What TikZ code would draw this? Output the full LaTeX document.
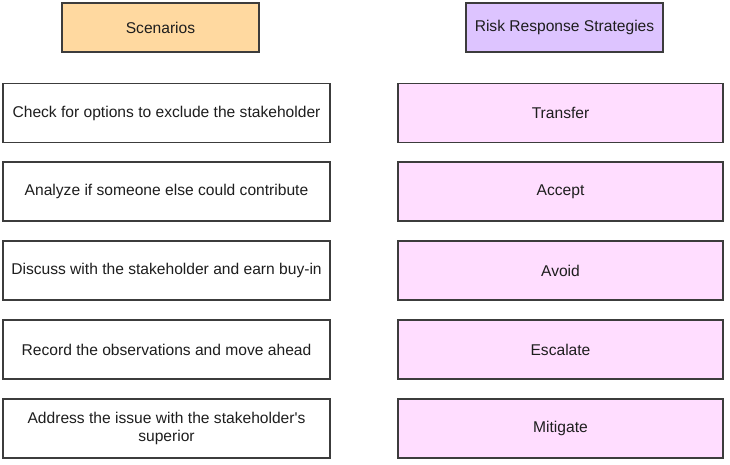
\documentclass[tikz,border=0pt]{standalone}
\usepackage{fontspec}
\setmainfont{Liberation Sans}
\definecolor{hdrA}{RGB}{255,217,160}
\definecolor{hdrB}{RGB}{221,196,255}
\definecolor{pinkbox}{RGB}{255,221,255}
\definecolor{edge}{RGB}{60,60,60}
\definecolor{txt}{RGB}{30,30,30}
\begin{document}
\begin{tikzpicture}[x=1pt,y=-1pt,
  box/.style={draw=edge,line width=1.2pt,minimum height=59pt,inner sep=2pt,
    font=\fontsize{15.6}{18.5}\selectfont,text=txt,align=center},
  lbox/.style={box,minimum width=327pt,fill=white},
  rbox/.style={box,minimum width=325pt,fill=pinkbox},
  hbox/.style={box,minimum width=197pt,minimum height=49pt}]
\useasboundingbox (0,0) rectangle (730,464);
\node[hbox,fill=hdrA] (h1) at (160.5,27.5) {Scenarios};
\node[hbox,fill=hdrB] (h2) at (564.5,27.5) {Risk Response Strategies};
\node[lbox] (s1) at (166.5,113) {Check for options to exclude the stakeholder};
\node[lbox] (s2) at (166.5,191.5) {Analyze if someone else could contribute};
\node[lbox] (s3) at (166.5,270.5) {Discuss with the stakeholder and earn buy-in};
\node[lbox] (s4) at (166.5,349.5) {Record the observations and move ahead};
\node[lbox] (s5) at (166.5,428.5) {Address the issue with the stakeholder\textquotesingle s\\superior};
\node[rbox] (r1) at (560.5,113) {Transfer};
\node[rbox] (r2) at (560.5,191.5) {Accept};
\node[rbox] (r3) at (560.5,270.5) {Avoid};
\node[rbox] (r4) at (560.5,349.5) {Escalate};
\node[rbox] (r5) at (560.5,428.5) {Mitigate};
\end{tikzpicture}
\end{document}
